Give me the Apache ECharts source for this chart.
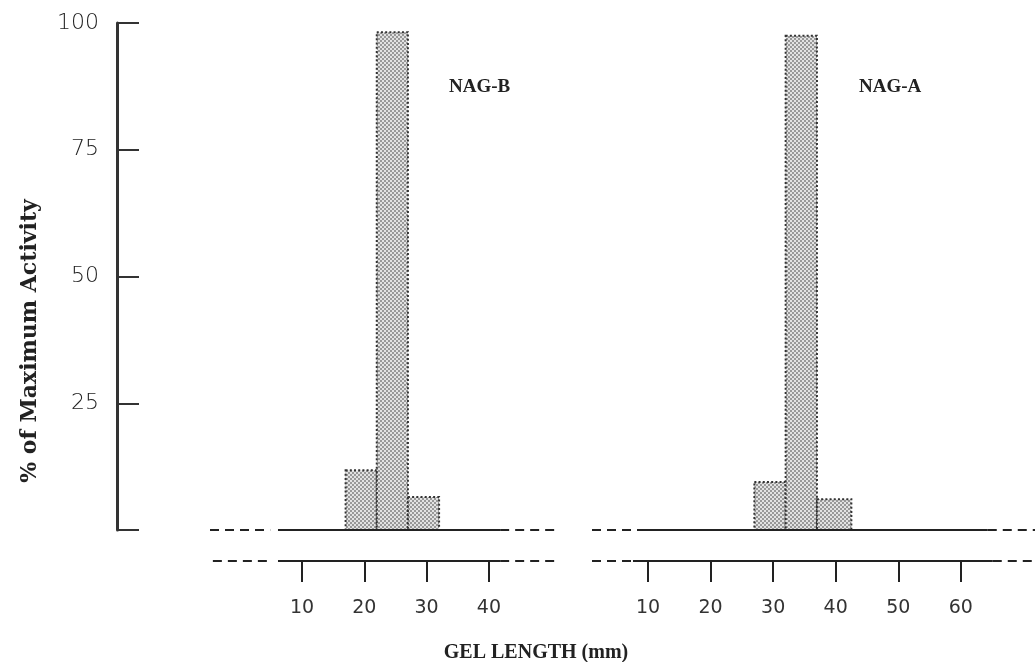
<!DOCTYPE html>
<html>
<head>
<meta charset="utf-8">
<title>NAG activity</title>
<script src="https://cdn.jsdelivr.net/npm/echarts@6/dist/echarts.min.js"></script>
<style>
  html, body { margin: 0; padding: 0; background: #fff; }
  #chart { width: 1035px; height: 662px; }
</style>
</head>
<body>
<div id="chart"></div>
<script>
// y scale (% of maximum activity)
const yTicks = [0, 25, 50, 75, 100];
const yFloor = -6.1; // level of the lower gel ruler, in % units

// NAG-B fractions (gel length, mm)
const nagBStart = [17, 22, 27];
const nagBEnd = [22, 27, 32];
const nagBActivity = [11.8, 98.2, 6.5];
const nagBTicks = [10, 20, 30, 40];

// NAG-A fractions
const nagAStart = [27, 32, 37];
const nagAEnd = [32, 37, 42.5];
const nagAActivity = [9.5, 97.5, 6.1];
const nagATicks = [10, 20, 30, 40, 50, 60];

// stippled fill like the printed halftone
function stipple() {
  const c = document.createElement('canvas');
  c.width = 4;
  c.height = 4;
  const ctx = c.getContext('2d');
  ctx.fillStyle = '#e2e2e2';
  ctx.fillRect(0, 0, 4, 4);
  ctx.fillStyle = '#7a7a7a';
  ctx.beginPath(); ctx.arc(1, 1, 0.95, 0, Math.PI * 2); ctx.fill();
  ctx.beginPath(); ctx.arc(3, 3, 0.95, 0, Math.PI * 2); ctx.fill();
  return { image: c, repeat: 'repeat' };
}
const fillPattern = stipple();

function bars(start, end, act) {
  return start.map((s, i) => [s, end[i], act[i]]);
}

function renderBar(params, api) {
  const p0 = api.coord([api.value(0), api.value(2)]);
  const p1 = api.coord([api.value(1), 0]);
  return {
    type: 'rect',
    shape: { x: p0[0], y: p0[1], width: p1[0] - p0[0], height: p1[1] - p0[1] },
    style: { fill: fillPattern, stroke: '#333', lineWidth: 2, lineDash: [2, 2.2] }
  };
}

// baseline / ruler pieces, solid or dashed
function rule(gridIdx, x0, x1, y, dashed) {
  return {
    type: 'line',
    xAxisIndex: gridIdx,
    yAxisIndex: gridIdx,
    data: [[x0, y], [x1, y]],
    symbol: 'none',
    silent: true,
    lineStyle: { color: '#222', width: 2, type: dashed ? [9, 6] : 'solid' }
  };
}

const chart = echarts.init(document.getElementById('chart'));

const gelAxis = (min, max, ticks, gridIndex) => ({
  type: 'value',
  gridIndex: gridIndex,
  position: 'bottom',
  min: min,
  max: max,
  splitLine: { show: false },
  axisLine: { show: false, onZero: false },
  axisTick: { show: true, customValues: ticks, length: 21, lineStyle: { color: '#222', width: 2 } },
  axisLabel: {
    customValues: ticks,
    margin: 38,
    color: '#333',
    fontFamily: 'DejaVu Sans',
    fontSize: 19
  }
});

const hiddenY = (gridIndex) => ({
  type: 'value',
  gridIndex: gridIndex,
  min: yFloor,
  max: 100,
  show: false
});

const option = {
  backgroundColor: '#fff',
  animation: false,
  grid: [
    { left: 117, top: 23, width: 40, height: 507 },
    { left: 210, top: 23, width: 345, height: 538 },
    { left: 592, top: 23, width: 443, height: 538 }
  ],
  title: [
    { text: 'NAG-B', left: 444, top: 73, textStyle: { fontFamily: 'Liberation Serif', fontWeight: 'bold', fontSize: 19, color: '#222' } },
    { text: 'NAG-A', left: 854, top: 73, textStyle: { fontFamily: 'Liberation Serif', fontWeight: 'bold', fontSize: 19, color: '#222' } },
    { text: 'GEL LENGTH (mm)', left: 531, top: 638, textAlign: 'center', textStyle: { fontFamily: 'Liberation Serif', fontWeight: 'bold', fontSize: 20, color: '#222' } }
  ],
  graphic: [{
    type: 'text',
    x: 30,
    y: 341,
    rotation: Math.PI / 2,
    style: {
      text: '% of Maximum Activity',
      fill: '#222',
      font: 'bold 22px "DejaVu Serif"',
      align: 'center',
      verticalAlign: 'middle'
    }
  }],
  xAxis: [
    { type: 'value', gridIndex: 0, show: false, min: 0, max: 1 },
    gelAxis(-4.76, 50.6, nagBTicks, 1),
    gelAxis(1.05, 71.85, nagATicks, 2)
  ],
  yAxis: [
    {
      type: 'value',
      gridIndex: 0,
      min: 0,
      max: 100,
      interval: 25,
      splitLine: { show: false },
      axisLine: { show: true, lineStyle: { color: '#333', width: 3 } },
      axisTick: { show: true, inside: true, length: 22, lineStyle: { color: '#333', width: 2 } },
      axisLabel: {
        margin: 18,
        color: '#222',
        fontFamily: 'DejaVu Sans',
        fontWeight: 200,
        fontSize: 22,
        formatter: v => (v === 0 ? '' : String(v))
      }
    },
    hiddenY(1),
    hiddenY(2)
  ],
  series: [
    // NAG-B panel
    rule(1, -4.76, 4.9, 0, true),
    rule(1, 6.15, 41.8, 0, false),
    rule(1, 41.8, 50.6, 0, true),
    rule(1, -4.3, 4.4, yFloor, true),
    rule(1, 6.15, 41.8, yFloor, false),
    rule(1, 41.8, 50.6, yFloor, true),
    {
      type: 'custom',
      name: 'NAG-B',
      xAxisIndex: 1,
      yAxisIndex: 1,
      renderItem: renderBar,
      encode: { x: [0, 1], y: 2 },
      data: bars(nagBStart, nagBEnd, nagBActivity)
    },
    // NAG-A panel
    rule(2, 1.05, 9.2, 0, true),
    rule(2, 9.2, 64.3, 0, false),
    rule(2, 64.3, 71.85, 0, true),
    rule(2, 1.05, 7.6, yFloor, true),
    rule(2, 7.6, 65.1, yFloor, false),
    rule(2, 65.1, 71.85, yFloor, true),
    {
      type: 'custom',
      name: 'NAG-A',
      xAxisIndex: 2,
      yAxisIndex: 2,
      renderItem: renderBar,
      encode: { x: [0, 1], y: 2 },
      data: bars(nagAStart, nagAEnd, nagAActivity)
    }
  ]
};

chart.setOption(option);
</script>
</body>
</html>
